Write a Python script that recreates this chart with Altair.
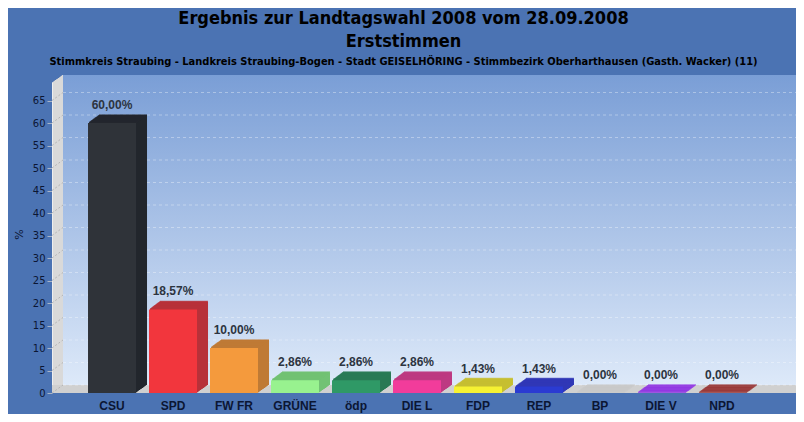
import altair as alt
import pandas as pd

# ---- data ----
parties = ["CSU", "SPD", "FW FR", "GRÜNE", "ödp", "DIE L", "FDP", "REP", "BP", "DIE V", "NPD"]
values = [60.00, 18.57, 10.00, 2.86, 2.86, 2.86, 1.43, 1.43, 0.00, 0.00, 0.00]
front_colors = ["#2f3339", "#f2363d", "#f49a3d", "#98f28f", "#2f9966", "#f23c9b",
                "#f6f232", "#2b3bd2", "#c4c4c4", "#9a31f0", "#9b2b2b"]
side_colors = ["#23272d", "#b8323a", "#bf7a36", "#72c274", "#2a7a55", "#bd3a82",
               "#c6bf32", "#3038b6", "#c9c9c9", "#8f2fe6", "#973030"]
y_ticks = list(range(0, 70, 5))

title_lines = ["Ergebnis zur Landtagswahl 2008 vom 28.09.2008", "Erststimmen"]
subtitle = ("Stimmkreis Straubing - Landkreis Straubing-Bogen - Stadt GEISELHÖRING - "
            "Stimmbezirk Oberharthausen (Gasth. Wacker) (11)")

# ---- geometry / style ----
W, H = 733, 318
DX, DY = 11, 8
PX_PER_UNIT = 4.5
NARROW = "Liberation Sans Narrow, DejaVu Sans Condensed, Arial Narrow, sans-serif"

df = pd.DataFrame({
    "party": parties,
    "value": values,
    "side_key": [p + " (Seite)" for p in parties],
    "label": [f"{v:.2f}".replace(".", ",") + "%" for v in values],
})
grid_df = pd.DataFrame({"v": y_ticks})

color_scale = alt.Scale(domain=parties + list(df["side_key"]), range=front_colors + side_colors)

x_enc = alt.X(
    "party:N", sort=parties,
    scale=alt.Scale(domain=parties, paddingInner=0.213, paddingOuter=0.615, align=0.48),
    axis=alt.Axis(title=None, labelAngle=0, ticks=False, domain=False, labelFontSize=12,
                  labelFontWeight="bold", labelFont="Liberation Sans", labelColor="#0b1633",
                  labelPadding=7),
)
y_scale = alt.Scale(domain=[0, H / PX_PER_UNIT], nice=False, zero=True)
y_axis = alt.Axis(title="%", values=y_ticks, grid=False, domain=False, tickSize=5,
                  tickColor="#a8b4c8", labelFont="DejaVu Sans", labelFontSize=10,
                  labelColor="#0b1633", labelPadding=2, titleFont="DejaVu Sans",
                  titleFontSize=11, titleFontWeight="normal", titleColor="#0b1633",
                  titlePadding=8)
y_enc = alt.Y("value:Q", scale=y_scale, axis=y_axis)

one = alt.Data(values=[{}])

wall_gradient = alt.LinearGradient(
    gradient="linear",
    stops=[alt.GradientStop(color="#7a9ed6", offset=0),
           alt.GradientStop(color="#dde9f9", offset=1)],
    x1=0, x2=0, y1=0, y2=1,
)

layers = []
layers.append(alt.Chart(one).mark_rect(color=wall_gradient).encode(
    x=alt.value(DX), x2=alt.value(W + DX), y=alt.value(0), y2=alt.value(H - DY)))

# slanted left side wall, built from thin vertical slices
for i in range(DX):
    top = DY - (i + 1) * DY / DX
    layers.append(alt.Chart(one).mark_rect(color="#d9d9d9" if i > 0 else "#eeeeee").encode(
        x=alt.value(i), x2=alt.value(i + 1), y=alt.value(top), y2=alt.value(H)))

layers.append(alt.Chart(one).mark_rect(color="#d0d0d0").encode(
    x=alt.value(0), x2=alt.value(W + DX), y=alt.value(H - DY), y2=alt.value(H)))

layers.append(alt.Chart(grid_df).mark_rule(color="#ffffff", opacity=0.35, strokeDash=[3, 3],
                                           yOffset=-DY).encode(
    x=alt.value(DX), x2=alt.value(W + DX),
    y=alt.Y("v:Q", scale=y_scale, axis=y_axis)))
layers.append(alt.Chart(grid_df).mark_rule(color="#b4b4b4", strokeDash=[2, 2],
                                           y2Offset=-DY).encode(
    x=alt.value(0), x2=alt.value(DX),
    y=alt.Y("v:Q", scale=y_scale, axis=y_axis), y2=alt.Y2("v:Q")))

base = alt.Chart(df)
for k in range(DX, 0, -1):
    dy = -k * DY / DX
    layers.append(base.mark_bar(xOffset=k, yOffset=dy).encode(
        x=x_enc, y=y_enc,
        color=alt.Color("side_key:N", scale=color_scale, legend=None)))
    layers.append(base.mark_tick(xOffset=k, yOffset=dy, size=48, thickness=1.6,
                                 orient="horizontal").encode(
        x=x_enc, y=y_enc,
        color=alt.Color("side_key:N", scale=color_scale, legend=None)))

layers.append(base.mark_bar().encode(
    x=x_enc, y=y_enc,
    color=alt.Color("party:N", scale=color_scale, legend=None)))
layers.append(base.mark_text(baseline="bottom", dy=-11, fontSize=12, fontWeight="bold",
                             font="Liberation Sans", color="#2c3440").encode(
    x=x_enc, y=y_enc, text="label:N"))

chart = alt.layer(*layers).properties(
    width=W, height=H,
    autosize=alt.AutoSizeParams(type="none"),
    padding={"left": 44, "top": 67, "right": 11, "bottom": 21},
    background="#4b73b3",
    title=alt.TitleParams(
        text=title_lines, subtitle=subtitle, anchor="middle", dx=-15, offset=8,
        font=NARROW, fontSize=18, fontWeight="bold", color="#000000", lineHeight=23,
        subtitleFont=NARROW, subtitleFontSize=11, subtitleFontWeight="bold",
        subtitleColor="#000000", subtitlePadding=5),
).configure_view(stroke=None)

chart.save("out.html", embed_options={"renderer": "svg", "actions": False})
